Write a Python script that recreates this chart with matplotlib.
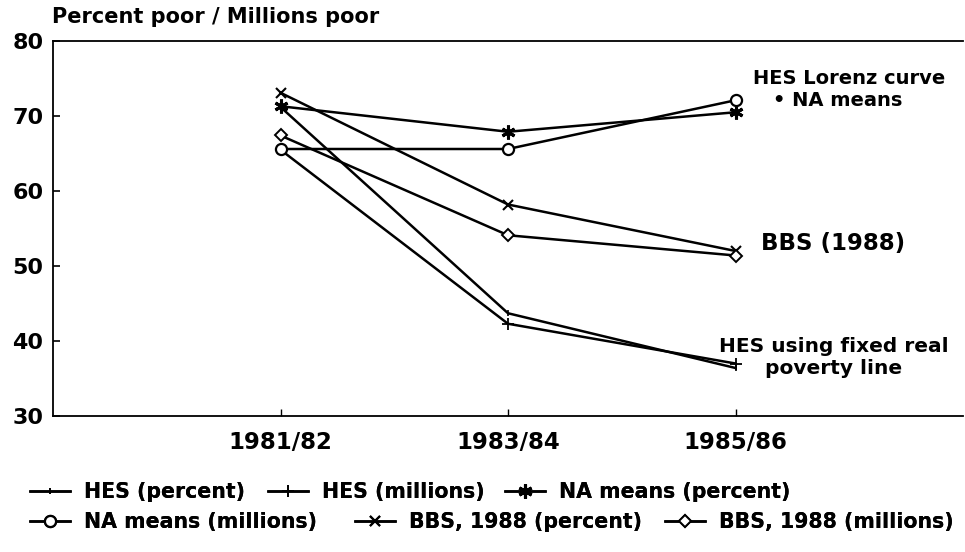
import matplotlib
matplotlib.use("Agg")
import matplotlib.pyplot as plt

plt.rcParams['font.family'] = ['DejaVu Sans']
plt.rcParams['font.weight'] = 'bold'

periods = ["1981/82", "1983/84", "1985/86"]
hes_percent = [71.2, 43.7, 36.4]
hes_millions = [65.5, 42.3, 37.0]
na_percent = [71.3, 67.9, 70.5]
na_millions = [65.6, 65.6, 72.1]
bbs_percent = [73.1, 58.2, 52.0]
bbs_millions = [67.4, 54.1, 51.4]

series = [
    ("HES (percent)", hes_percent, dict(marker='|', ms=5, mew=1.2)),
    ("HES (millions)", hes_millions, dict(marker='+', ms=9, mew=1.3)),
    ("NA means (percent)", na_percent, dict(marker=(6, 2, 0), ms=10, mew=2.2)),
    ("NA means (millions)", na_millions, dict(marker='o', ms=8, mfc='white', mew=1.6)),
    ("BBS, 1988 (percent)", bbs_percent, dict(marker='x', ms=7, mew=1.5)),
    ("BBS, 1988 (millions)", bbs_millions, dict(marker='D', ms=6, mfc='white', mew=1.4)),
]

fig = plt.figure(figsize=(9.65, 5.52), dpi=100)
ax = fig.add_axes([53/965, 1-416/552, (963-53)/965, (416-41)/552])

xpos = [1, 2, 3]
handles = []
for name, vals, style in series:
    ln, = ax.plot(xpos, vals, color='black', lw=1.8, label=name, **style)
    handles.append(ln)

ax.set_xlim(0, 4)
ax.set_ylim(30, 80)
ax.set_yticks([30, 40, 50, 60, 70, 80])
ax.set_xticks(xpos)
ax.set_xticklabels(periods)
for s in ['left', 'bottom', 'top']:
    ax.spines[s].set_linewidth(1.3)
ax.spines['right'].set_visible(False)
ax.tick_params(axis='y', direction='in', length=5, width=1.2, labelsize=16, pad=7)
ax.tick_params(axis='x', direction='in', length=5, width=1.0, labelsize=16.5, pad=11)
for lab in ax.get_xticklabels() + ax.get_yticklabels():
    lab.set_fontweight('bold')

fig.text(52/965, 1-17/552, "Percent poor / Millions poor", fontsize=15,
         fontweight='bold', ha='left', va='center')

def ftext(x, y, s, size, ha='center'):
    fig.text(x/965, 1-y/552, s, fontsize=size, fontweight='bold', ha=ha, va='center')

ftext(849, 78, "HES Lorenz curve", 14)
ftext(838, 101, "• NA means", 14)
ftext(761, 243, "BBS (1988)", 16.5, ha='left')
ftext(834, 347, "HES using fixed real", 14.5)
ftext(834, 369, "poverty line", 14.5)

leg_pos = [(30, 492), (268, 492), (505, 492), (30, 522), (355, 522), (665, 522)]
for h, (name, _, _), (px, py) in zip(handles, series, leg_pos):
    lg = fig.legend([h], [name], loc='center left', bbox_to_anchor=(px/965, 1-py/552),
                    frameon=False, borderaxespad=0, borderpad=0, handlelength=1.95,
                    handletextpad=0.7, prop={'weight': 'bold', 'size': 14.8})
    fig.add_artist(lg)

fig.savefig("out.png", dpi=100)
